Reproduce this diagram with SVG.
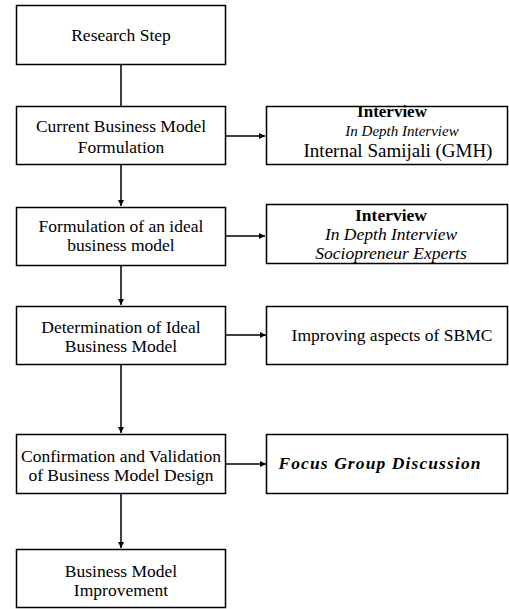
<svg xmlns="http://www.w3.org/2000/svg" width="509" height="609" viewBox="0 0 509 609">
<defs>
<style>
.box{fill:#fff;stroke:#000;stroke-width:1.5}
.t{font-family:"Liberation Serif","Times New Roman",serif;font-size:17.5px;fill:#000;text-anchor:middle}
.b{font-weight:bold}
.i{font-style:italic}
.c{fill:none;stroke:#000;stroke-width:1.5}
</style>
<marker id="ah" viewBox="0 0 10 10" refX="10" refY="5" markerWidth="6" markerHeight="6" markerUnits="userSpaceOnUse" orient="auto"><path d="M0,0 L10,5 L0,10 z" fill="#000"/></marker>
</defs>
<rect width="509" height="609" fill="#fff"/>
<g id="connectors">
<line class="c" x1="121" y1="65" x2="121" y2="106"/>
<line class="c" x1="121" y1="165" x2="121" y2="206" marker-end="url(#ah)"/>
<line class="c" x1="121" y1="266" x2="121" y2="305" marker-end="url(#ah)"/>
<line class="c" x1="121" y1="365" x2="121" y2="433" marker-end="url(#ah)"/>
<line class="c" x1="121" y1="494" x2="121" y2="548" marker-end="url(#ah)"/>
<line class="c" x1="226" y1="136" x2="265" y2="136" marker-end="url(#ah)"/>
<line class="c" x1="226" y1="236" x2="265" y2="236" marker-end="url(#ah)"/>
<line class="c" x1="226" y1="335" x2="266" y2="335" marker-end="url(#ah)"/>
<line class="c" x1="226" y1="464" x2="266" y2="464" marker-end="url(#ah)"/>
</g>
<g id="n1"><rect class="box" x="16.5" y="5.5" width="209" height="59"/><text class="t" x="121" y="41">Research Step</text></g>
<g id="n2"><rect class="box" x="16.5" y="106.5" width="209" height="58"/><text class="t" x="121" y="132">Current Business Model</text><text class="t" x="121" y="153">Formulation</text></g>
<g id="n3"><rect class="box" x="16.5" y="207.5" width="209" height="58"/><text class="t" x="121" y="232">Formulation of an ideal</text><text class="t" x="121" y="251">business model</text></g>
<g id="n4"><rect class="box" x="16.5" y="306.5" width="209" height="58"/><text class="t" x="121" y="333">Determination of Ideal</text><text class="t" x="121" y="352">Business Model</text></g>
<g id="n5"><rect class="box" x="16.5" y="434.5" width="209" height="59"/><text class="t" x="121" y="462">Confirmation and Validation</text><text class="t" x="121" y="481">of Business Model Design</text></g>
<g id="n6"><rect class="box" x="16.5" y="549.5" width="209" height="58"/><text class="t" x="121" y="577">Business Model</text><text class="t" x="121" y="596">Improvement</text></g>
<g id="r1"><rect class="box" x="266.5" y="106.5" width="241" height="58"/><text class="t b" x="392" y="117" style="font-size:17px">Interview</text><text class="t i" x="402" y="136" style="font-size:15px">In Depth Interview</text><text class="t" x="398" y="157" style="font-size:19px">Internal Samijali (GMH)</text></g>
<g id="r2"><rect class="box" x="266.5" y="204.5" width="241" height="59"/><text class="t b" x="391" y="221">Interview</text><text class="t i" x="391" y="240">In Depth Interview</text><text class="t i" x="391" y="259">Sociopreneur Experts</text></g>
<g id="r3"><rect class="box" x="266.5" y="306.5" width="241" height="58"/><text class="t" x="392" y="341">Improving aspects of SBMC</text></g>
<g id="r4"><rect class="box" x="266.5" y="434.5" width="241" height="59"/><text class="t b i" x="380" y="469" style="letter-spacing:1.1px">Focus Group Discussion</text></g>
</svg>
